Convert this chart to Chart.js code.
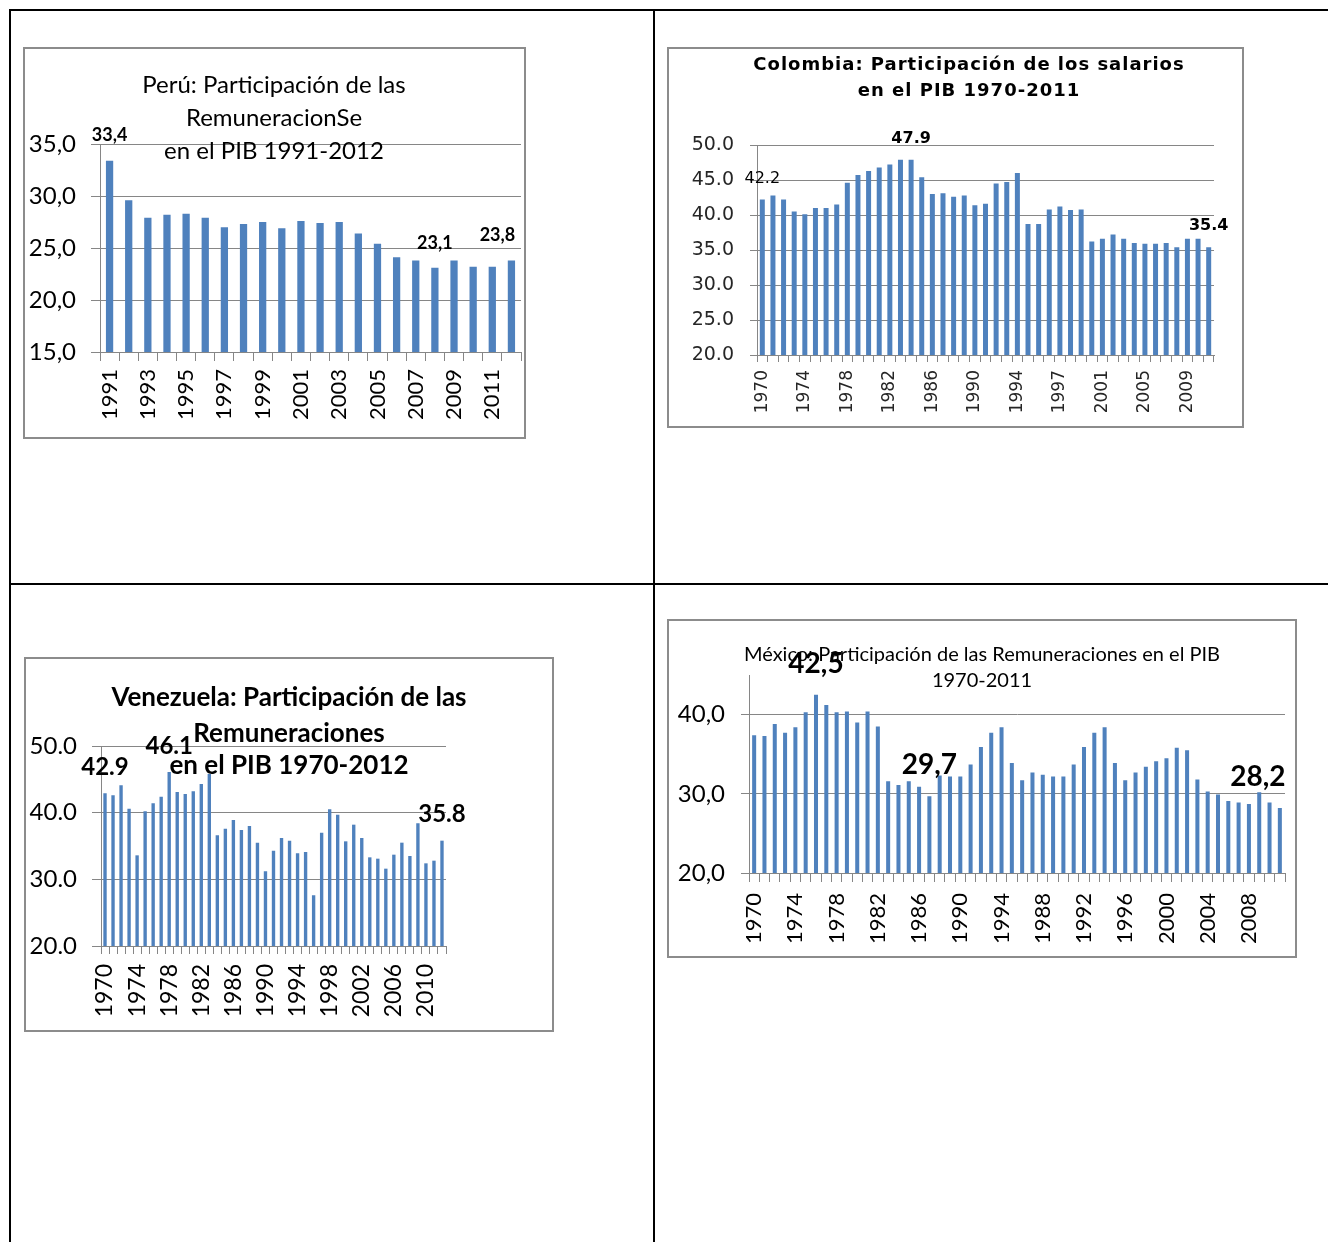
<!DOCTYPE html>
<html lang="es">
<head>
<meta charset="utf-8">
<title>Participación de las remuneraciones en el PIB</title>
<script src="https://cdn.jsdelivr.net/npm/chart.js@4.4.1/dist/chart.umd.min.js"></script>
<style>
body { margin: 0; background: #fff; }
#page { position: relative; width: 1328px; height: 1242px; overflow: hidden; }
.rule { position: absolute; background: #000; }
.box { position: absolute; border: 2px solid #8c8c8c; background: #fff; }
.box canvas { display: block; }
</style>
</head>
<body>
<div id="page">
  <!-- table lines -->
  <div class="rule" style="left:9px;top:9px;width:1319px;height:2px"></div>
  <div class="rule" style="left:9px;top:9px;width:2px;height:1233px"></div>
  <div class="rule" style="left:653px;top:9px;width:2px;height:1233px"></div>
  <div class="rule" style="left:9px;top:583px;width:1319px;height:2px"></div>

  <div class="box" style="left:23px;top:47px"><canvas id="peru" width="499" height="388"></canvas></div>
  <div class="box" style="left:667px;top:47px"><canvas id="colombia" width="573" height="377"></canvas></div>
  <div class="box" style="left:24px;top:657px"><canvas id="venezuela" width="526" height="371"></canvas></div>
  <div class="box" style="left:667px;top:619px"><canvas id="mexico" width="626" height="335"></canvas></div>
</div>

<script>
// ---- datos ----
const peruYears = ['1991','1992','1993','1994','1995','1996','1997','1998','1999','2000','2001',
  '2002','2003','2004','2005','2006','2007','2008','2009','2010','2011','2012'];
const peruValues = [33.4, 29.6, 27.9, 28.2, 28.3, 27.9, 27.0, 27.3, 27.5, 26.9, 27.6,
  27.4, 27.5, 26.4, 25.4, 24.1, 23.8, 23.1, 23.8, 23.2, 23.2, 23.8];
const peruMarked = [0, 17, 21];

// la serie de Colombia repite 1994 (cambio de base)
const colombiaYears = ['1970','1971','1972','1973','1974','1975','1976','1977','1978','1979',
  '1980','1981','1982','1983','1984','1985','1986','1987','1988','1989','1990','1991','1992',
  '1993','1994','1994','1995','1996','1997','1998','1999','2000','2001','2002','2003','2004',
  '2005','2006','2007','2008','2009','2010','2011'];
const colombiaValues = [42.2, 42.8, 42.2, 40.5, 40.1, 41.0, 41.0, 41.5, 44.6, 45.7,
  46.3, 46.8, 47.2, 47.9, 47.9, 45.4, 43.0, 43.1, 42.6, 42.8, 41.4, 41.6, 44.5,
  44.7, 46.0, 38.7, 38.7, 40.8, 41.2, 40.7, 40.8, 36.2, 36.6, 37.2, 36.6, 36.0,
  35.9, 35.9, 36.0, 35.4, 36.6, 36.6, 35.4];
const colombiaMarked = [0, 14, 42];

const venezuelaYears = ['1970','1971','1972','1973','1974','1975','1976','1977','1978','1979',
  '1980','1981','1982','1983','1984','1985','1986','1987','1988','1989','1990','1991','1992',
  '1993','1994','1995','1996','1997','1998','1999','2000','2001','2002','2003','2004','2005',
  '2006','2007','2008','2009','2010','2011','2012'];
const venezuelaValues = [42.9, 42.6, 44.1, 40.6, 33.6, 40.2, 41.4, 42.4, 46.1, 43.1,
  42.8, 43.2, 44.3, 45.8, 36.6, 37.6, 38.9, 37.4, 38.0, 35.5, 31.2, 34.3, 36.2,
  35.8, 33.9, 34.1, 27.6, 37.0, 40.5, 39.7, 35.7, 38.2, 36.2, 33.3, 33.1, 31.6,
  33.7, 35.5, 33.5, 38.4, 32.4, 32.8, 35.8];
const venezuelaMarked = [0, 8, 42];

// México: dos series empalmadas (1970-1994 y 1985-2011)
const mexicoYears = ['1970','1971','1972','1973','1974','1975','1976','1977','1978','1979',
  '1980','1981','1982','1983','1984','1985','1986','1987','1988','1989','1990','1991','1992',
  '1993','1994','1985','1986','1987','1988','1989','1990','1991','1992','1993','1994','1995',
  '1996','1997','1998','1999','2000','2001','2002','2003','2004','2005','2006','2007','2008',
  '2009','2010','2011'];
const mexicoValues = [37.4, 37.3, 38.8, 37.7, 38.4, 40.3, 42.5, 41.2, 40.3, 40.4,
  39.0, 40.4, 38.5, 31.6, 31.1, 31.6, 30.9, 29.7, 32.3, 32.2, 32.2, 33.7, 35.9,
  37.7, 38.4, 33.9, 31.7, 32.7, 32.4, 32.2, 32.2, 33.7, 35.9, 37.7, 38.4, 33.9,
  31.7, 32.7, 33.4, 34.1, 34.5, 35.8, 35.5, 31.8, 30.3, 29.9, 29.1, 28.9, 28.7,
  30.2, 28.9, 28.2];
const mexicoMarked = [6, 17, 51];

// ---- estilos ----
const BAR = '#4F81BD';
const GRID = '#868686';
const comma = v => v.toFixed(1).replace('.', ',');
const dot = v => v.toFixed(1);

// titulo dibujado encima del area (como en Excel, se monta sobre el grafico)
const titleLines = {
  id: 'titleLines',
  afterDraw(chart, args, o) {
    const ctx = chart.ctx;
    ctx.save();
    ctx.font = o.font;
    if (o.spacing) ctx.letterSpacing = o.spacing;
    ctx.fillStyle = o.color || '#000';
    ctx.textAlign = 'center';
    ctx.textBaseline = 'middle';
    o.lines.forEach((t, k) => ctx.fillText(t, o.x, o.y[k]));
    ctx.restore();
  }
};

// etiquetas de valor sobre algunas barras
const barLabels = {
  id: 'barLabels',
  afterDatasetsDraw(chart, args, o) {
    const meta = chart.getDatasetMeta(0);
    const vals = chart.data.datasets[0].data;
    const ctx = chart.ctx;
    ctx.save();
    ctx.fillStyle = '#000';
    ctx.textAlign = 'center';
    ctx.textBaseline = 'middle';
    o.items.forEach((i, k) => {
      const bar = meta.data[i];
      ctx.font = (o.fonts && o.fonts[k]) || o.font;
      ctx.fillText(o.format(vals[i]), bar.x + (o.dx ? o.dx[k] : 0), bar.y + o.dy);
    });
    ctx.restore();
  }
};

function makeChart(id, labels, values, c) {
  return new Chart(document.getElementById(id), {
    type: 'bar',
    data: {
      labels: labels,
      datasets: [{
        data: values,
        backgroundColor: BAR,
        borderWidth: 0,
        barPercentage: c.barPct,
        categoryPercentage: 1
      }]
    },
    options: {
      responsive: false,
      animation: false,
      layout: { padding: { top: c.padTop, right: c.padRight, left: 0, bottom: 0 } },
      plugins: {
        legend: { display: false },
        tooltip: { enabled: false },
        titleLines: c.title,
        barLabels: c.marks
      },
      scales: {
        x: {
          grid: { offset: true, drawOnChartArea: false, tickLength: c.xTick, color: GRID },
          border: { color: GRID },
          ticks: {
            autoSkip: false, minRotation: 90, maxRotation: 90,
            padding: c.xPad, color: c.color, font: c.xFont,
            callback: function (v, i) { return i % c.every === 0 ? this.getLabelForValue(v) : ''; }
          },
          afterFit: s => { s.height = c.xHeight; s.paddingLeft = 0; s.paddingRight = 0; }
        },
        y: {
          min: c.min, max: c.max,
          grid: { color: GRID, tickLength: c.yTick },
          border: { color: GRID },
          ticks: { stepSize: c.step, padding: c.yPad, color: c.color, font: c.yFont, callback: c.fmt },
          afterBuildTicks: s => { s.ticks = s.ticks.filter(t => (t.value - c.min) % c.step === 0); },
          afterFit: s => { s.width = c.yWidth; }
        }
      }
    },
    plugins: [titleLines, barLabels]
  });
}

makeChart('peru', peruYears, peruValues, {
  barPct: 0.38, padTop: 95, padRight: 3, yWidth: 75, xHeight: 85,
  min: 15, max: 35, step: 5, fmt: comma, color: '#000',
  yTick: 9, yPad: 15, yFont: { family: 'Lato', size: 24 },
  xTick: 9, xPad: 8, xFont: { family: 'Lato', size: 22 }, every: 2,
  title: { font: '24px Lato', x: 249, y: [36, 69, 102],
    lines: ['Perú: Participación de las', 'RemuneracionSe', 'en el PIB 1991-2012'] },
  marks: { items: peruMarked, font: 'bold 18px Lato', dy: -25, dx: [0, 0, -14], format: comma }
});

makeChart('colombia', colombiaYears, colombiaValues, {
  barPct: 0.47, padTop: 96, padRight: 28, yWidth: 88, xHeight: 71,
  min: 20, max: 50, step: 5, fmt: dot, color: '#262626',
  yTick: 7, yPad: 16, yFont: { family: 'DejaVu Sans', size: 19 },
  xTick: 7, xPad: 8, xFont: { family: 'DejaVu Sans', size: 17 }, every: 4,
  title: { font: 'bold 18px "DejaVu Sans"', spacing: '1px', x: 300, y: [16, 42],
    lines: ['Colombia: Participación de los salarios', 'en el PIB 1970-2011'] },
  marks: { items: colombiaMarked, font: 'bold 16px "DejaVu Sans"',
    fonts: ['16px "DejaVu Sans"'], dy: -21, format: dot }
});

makeChart('venezuela', venezuelaYears, venezuelaValues, {
  barPct: 0.42, padTop: 87, padRight: 106, yWidth: 75, xHeight: 84,
  min: 20, max: 50, step: 10, fmt: dot, color: '#000',
  yTick: 9, yPad: 15, yFont: { family: 'Lato', size: 24 },
  xTick: 8, xPad: 10, xFont: { family: 'Lato', size: 23 }, every: 4,
  title: { font: 'bold 26px Lato', x: 263, y: [39, 75, 107],
    lines: ['Venezuela: Participación de las', 'Remuneraciones', 'en el PIB 1970-2012'] },
  marks: { items: venezuelaMarked, font: 'bold 24px Lato', dy: -26, format: dot }
});

makeChart('mexico', mexicoYears, mexicoValues, {
  barPct: 0.39, padTop: 54, padRight: 10, yWidth: 80, xHeight: 83,
  min: 20, max: 45, step: 10, fmt: comma, color: '#000',
  yTick: 8, yPad: 16, yFont: { family: 'Lato', size: 24 },
  xTick: 9, xPad: 11, xFont: { family: 'Lato', size: 22 }, every: 4,
  title: { font: '20px Lato', x: 313, y: [34, 60],
    lines: ['México: Participación de las Remuneraciones en el PIB', '1970-2011'] },
  marks: { items: mexicoMarked, font: 'bold 28px Lato', dy: -31, dx: [0, 0, -22], format: comma }
});
</script>
</body>
</html>
